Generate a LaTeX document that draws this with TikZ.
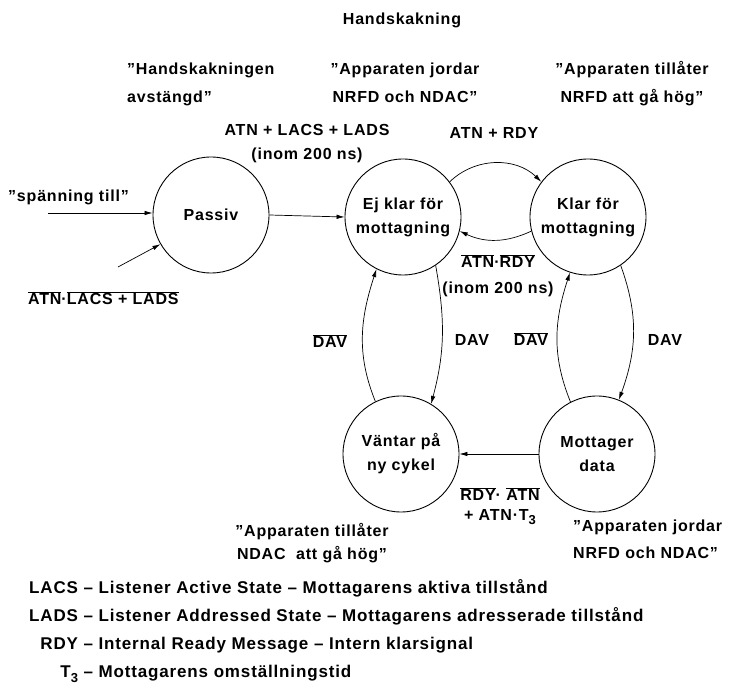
\documentclass[tikz,border=0pt]{standalone}
\usepackage{fontspec}
\setmainfont{Liberation Sans}[LetterSpace=5]
\usetikzlibrary{arrows.meta}
\newcommand{\ovl}[1]{$\overline{\mbox{#1}}$}
\newcommand{\subthree}{\raisebox{-0.5ex}{\fontsize{13}{13}\selectfont 3}}
\newcommand{\topstrut}{\rule{0pt}{15pt}}
\begin{document}
\begin{tikzpicture}[x=1pt,y=1pt,
  state/.style={circle,draw,line width=0.9pt,minimum size=116pt,inner sep=0pt,
    align=center,font=\fontsize{16}{24}\selectfont\bfseries},
  lbl/.style={inner sep=0pt,font=\fontsize{16}{24}\selectfont\bfseries},
  note/.style={inner sep=0pt,font=\fontsize{16}{28}\selectfont\bfseries},
  arr/.style={-{Latex[length=8pt,width=4.5pt]},line width=0.7pt}]
\useasboundingbox (0,0) rectangle (737,-684);

% states
\node[state] (pas) at (211,-215) {Passiv};
\node[state] (ej)  at (403,-217) {Ej klar för\\mottagning};
\node[state] (kl)  at (588,-217) {Klar för\\mottagning};
\node[state] (vn)  at (401,-454) {Väntar på\\ny cykel};
\node[state] (mt)  at (597,-454) {Mottager\\data};

% free ends of the incoming arrows
\coordinate (p1) at (48,-213);
\coordinate (p2) at (118,-267);

% transitions
\draw[arr] (p1) -- (pas.west |- p1);
\draw[arr] (p2) -- (pas.210);
\draw[arr] (pas.east) -- (ej.west);
\draw[arr] (ej.37) to[bend left=44] (kl.143);
\draw[arr] (kl.194) to[bend left=25] (ej.346);
\draw[arr] (ej.304) to[out=-80,in=75] (vn.59);
\draw[arr] (vn.116) to[out=112,in=-108] (ej.243);
\draw[arr] (mt.117) to[out=112,in=-108] (kl.252);
\draw[arr] (kl.304) to[out=-70,in=70] (mt.68);
\draw[arr] (mt.west) -- (vn.east);

% title and state descriptions
\node[lbl] (title) at (402,-20) {Handskakning};
\node[note,align=left,anchor=north west] (d1) at (127,-59) {\topstrut”Handskakningen\\avstängd”};
\node[note,align=center,anchor=north] (d2) at (405,-59) {\topstrut”Apparaten jordar\\NRFD och NDAC”};
\node[note,align=center,anchor=north] (d3) at (632,-59) {\topstrut”Apparaten tillåter\\NRFD att gå hög”};
\node[note,align=center,anchor=north,font=\fontsize{16}{23}\selectfont\bfseries] (d4) at (312,-521) {\topstrut”Apparaten tillåter\\NDAC~ att gå hög”};
\node[note,align=left,anchor=north west,font=\fontsize{16}{27}\selectfont\bfseries] (d5) at (573,-516) {\topstrut”Apparaten jordar\\NRFD och NDAC”};

% transition conditions
\node[lbl] (c0) at (8,-197) [anchor=west] {”spänning till”};
\node[lbl] (c1) at (28,-298) [anchor=west] {\ovl{ATN}·\ovl{LACS + LADS}};
\node[lbl,align=center] (c2) at (307,-144) {ATN + LACS + LADS\\(inom 200 ns)};
\node[lbl] (c3) at (494,-133) {ATN + RDY};
\node[lbl,align=center,font=\fontsize{16}{26}\selectfont\bfseries] (c4) at (498,-276) {\ovl{ATN}·\ovl{RDY}\\(inom 200 ns)};
\node[lbl] (c5) at (330,-341) {\ovl{DAV}};
\node[lbl] (c6) at (472,-340) {DAV};
\node[lbl] (c7) at (531,-339) {\ovl{DAV}};
\node[lbl] (c8) at (665,-340) {DAV};
\node[lbl,align=center,font=\fontsize{16}{20}\selectfont\bfseries] (c9) at (500,-506) {\ovl{RDY}· \ovl{ATN}\\+ ATN·T\subthree};

% legend
\node[inner sep=0pt,anchor=north west,font=\fontsize{17}{28}\selectfont\bfseries] (leg) at (29,-574)
  {\begin{tabular}{@{}r@{ – }l@{}}
   LACS & Listener Active State – Mottagarens aktiva tillstånd\\
   LADS & Listener Addressed State – Mottagarens adresserade tillstånd\\
   RDY & Internal Ready Message – Intern klarsignal\\
   T\subthree & Mottagarens omställningstid
   \end{tabular}};
\end{tikzpicture}
\end{document}
